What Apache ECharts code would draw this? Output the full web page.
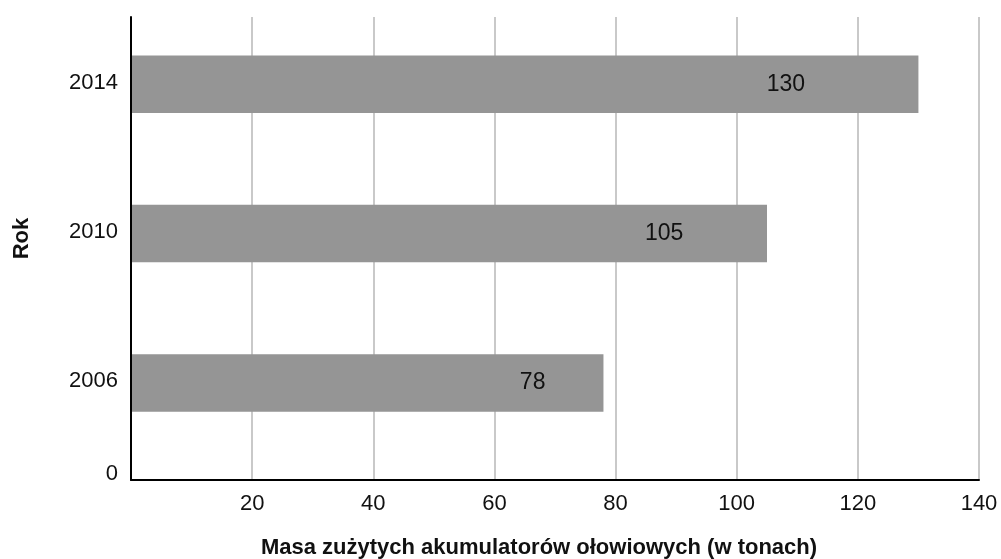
<!DOCTYPE html>
<html>
<head>
<meta charset="utf-8">
<script src="https://cdn.jsdelivr.net/npm/echarts@6/dist/echarts.min.js"></script>
<style>
  html, body { margin: 0; padding: 0; background: #ffffff; }
  #chart { width: 1001px; height: 559px; }
</style>
</head>
<body>
<div id="chart"></div>
<script>
// Lead-acid battery waste by year (tonnes)
const categories = ['2006', '2010', '2014'];
const values = [78, 105, 130];
const originLabel = '0';
const xAxisTitle = 'Masa zużytych akumulatorów ołowiowych (w tonach)';
const yAxisTitle = 'Rok';

// Rows sit on a fine vertical value scale so the baseline gap can differ from row spacing
const ROW_START = 13, ROW_STEP = 20, Y_MAX = 62, BAR_THICK = 7.7;
const rowPos = i => ROW_START + ROW_STEP * i;

const FONT = '"Liberation Sans", Arial, Helvetica, sans-serif';
const chart = echarts.init(document.getElementById('chart'), null, { renderer: 'canvas' });

chart.setOption({
  animation: false,
  backgroundColor: '#ffffff',
  textStyle: { fontFamily: FONT, color: '#111111' },
  grid: {
    left: 131, right: 22, top: 17, bottom: 79,
    containLabel: false,
    outerBoundsMode: 'none'
  },
  xAxis: {
    type: 'value',
    min: 0,
    max: 140,
    interval: 20,
    axisLine: { show: true, lineStyle: { color: '#000000', width: 2 } },
    axisTick: { show: false },
    axisLabel: {
      fontSize: 22,
      color: '#111111',
      fontFamily: FONT,
      margin: 13,
      formatter: v => (v === 0 ? '' : String(v))
    },
    splitLine: { show: true, lineStyle: { color: '#c9c9c9', width: 2 } },
    name: xAxisTitle,
    nameLocation: 'middle',
    nameGap: 57,
    nameTextStyle: {
      fontSize: 22,
      fontWeight: 'bold',
      color: '#111111',
      fontFamily: FONT,
      padding: [0, 32, 0, 0]
    }
  },
  yAxis: {
    type: 'value',
    min: 0,
    max: Y_MAX,
    interval: 1,
    z: 5,
    axisLine: { show: true, lineStyle: { color: '#000000', width: 2 } },
    axisTick: { show: false },
    splitLine: { show: false },
    axisLabel: {
      margin: 13,
      fontSize: 22,
      color: '#111111',
      fontFamily: FONT,
      formatter: v => {
        if (v === 0) return '{z|' + originLabel + '}';
        const idx = (v - ROW_START) / ROW_STEP;
        if (Number.isInteger(idx) && idx >= 0 && idx < categories.length) {
          return '{y|' + categories[idx] + '}';
        }
        return '';
      },
      rich: {
        y: { fontSize: 22, fontFamily: FONT, color: '#111111', padding: [0, 0, 3, 0] },
        z: { fontSize: 22, fontFamily: FONT, color: '#111111', padding: [0, 0, 12, 0] }
      }
    },
    name: yAxisTitle,
    nameLocation: 'middle',
    nameGap: 98,
    nameRotate: 90,
    nameTextStyle: {
      fontSize: 22,
      fontWeight: 'bold',
      color: '#111111',
      fontFamily: FONT,
      padding: [0, 0, 0, 20]
    }
  },
  series: [{
    type: 'custom',
    z: 2,
    data: values.map((v, i) => [v, rowPos(i)]),
    renderItem: (params, api) => {
      const v = api.value(0);
      const p = api.value(1);
      const start = api.coord([0, p]);
      const end = api.coord([v, p]);
      const h = api.size([0, BAR_THICK])[1];
      const labelAt = api.coord([3.6 + 0.804 * v, p]);
      return {
        type: 'group',
        children: [
          {
            type: 'rect',
            shape: { x: start[0], y: start[1] - h / 2, width: end[0] - start[0], height: h },
            style: { fill: '#959595' }
          },
          {
            type: 'text',
            x: labelAt[0],
            y: labelAt[1],
            style: {
              text: String(v),
              fill: '#111111',
              font: '23px ' + FONT,
              align: 'center',
              verticalAlign: 'middle'
            }
          }
        ]
      };
    }
  }]
});
</script>
</body>
</html>
